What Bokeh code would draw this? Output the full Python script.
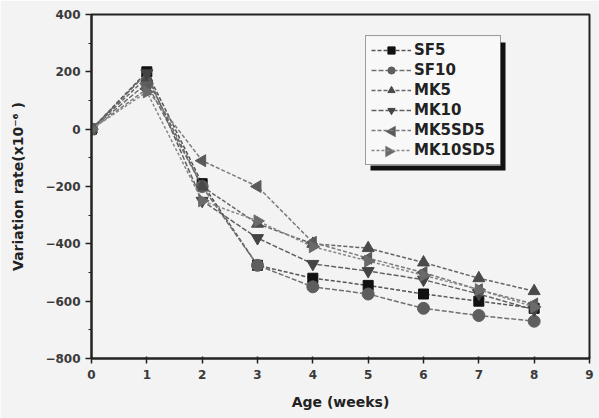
from bokeh.plotting import figure
from bokeh.models import Legend, LegendItem, BoxAnnotation, FixedTicker, PolyAnnotation
from bokeh.embed import file_html
from bokeh.resources import INLINE

weeks = [0, 1, 2, 3, 4, 5, 6, 7, 8]
sf5 = [0, 200, -190, -475, -520, -545, -575, -600, -625]
sf10 = [0, 160, -200, -475, -550, -575, -625, -650, -670]
mk5 = [0, 180, -200, -330, -400, -415, -465, -520, -565]
mk10 = [0, 195, -250, -380, -470, -495, -525, -575, -630]
mk5sd5 = [0, 140, -110, -200, -395, -450, -500, -560, -610]
mk10sd5 = [0, 130, -250, -320, -410, -460, -510, -560, -620]

labels = ["SF5", "SF10", "MK5", "MK10", "MK5SD5", "MK10SD5"]
x_ticks = [0, 1, 2, 3, 4, 5, 6, 7, 8, 9]
y_ticks = [-800, -600, -400, -200, 0, 200, 400]

BG = "#f3f3f3"
FONT = "DejaVu Sans"

p = figure(width=599, height=418, output_backend="svg", toolbar_location=None,
           x_range=(0, 9), y_range=(-800, 400),
           min_border_left=91, min_border_right=10, min_border_top=14, min_border_bottom=60,
           background_fill_color=BG, border_fill_color=BG)
p.xgrid.visible = False
p.ygrid.visible = False
p.outline_line_color = "#222222"
p.outline_line_width = 2

p.xaxis.ticker = FixedTicker(ticks=x_ticks)
p.yaxis.ticker = FixedTicker(ticks=y_ticks, minor_ticks=list(range(-800, 401, 100)))
for ax in (p.xaxis[0], p.yaxis[0]):
    ax.axis_line_color = "#222222"
    ax.axis_line_width = 2
    ax.major_tick_line_color = "#222222"
    ax.major_tick_line_width = 1.5
    ax.minor_tick_line_color = "#222222"
    ax.major_label_text_font = FONT
    ax.major_label_text_font_size = "12px"
    ax.major_label_text_font_style = "bold"
    ax.major_label_text_color = "#3a3a3a"
    ax.axis_label_text_font = FONT
    ax.axis_label_text_font_size = "14px"
    ax.axis_label_text_font_style = "bold"
    ax.axis_label_text_color = "#222222"
p.xaxis.minor_tick_line_color = None
p.yaxis.minor_tick_in = 0
p.yaxis.minor_tick_out = 3
p.xaxis.major_tick_in = 2
p.xaxis.major_tick_out = 5
p.yaxis.major_tick_in = 0
p.yaxis.major_tick_out = 6
p.xaxis.major_label_standoff = 6
p.xaxis.axis_label = "Age (weeks)"
p.yaxis.axis_label = "Variation rate(x10\u207b\u2076 )"
p.xaxis.axis_label_standoff = 12
p.yaxis.axis_label_standoff = 16

series = [sf5, sf10, mk5, mk10, mk5sd5, mk10sd5]
markers = ["square", "circle", "triangle", "inverted_triangle", "triangle", "triangle"]
angles = [0, 0, 0, 0, 1.5708, -1.5708]
mcolors = ["#111111", "#5e5e5e", "#4a4a4a", "#444444", "#5a5a5a", "#6a6a6a"]
lcolors = ["#555555", "#707070", "#666666", "#606060", "#7a7a7a", "#888888"]
dashes = ["4 2", "5 2", "4 2", "5 2", "4 2", "3 2"]
sizes = [10, 12, 12, 12, 12, 12]

# legend drop shadow and background (screen units, relative to frame, y up)
p.add_layout(BoxAnnotation(left=279, right=414, top=316, bottom=188,
                           left_units="screen", right_units="screen",
                           top_units="screen", bottom_units="screen",
                           fill_color="#111111", fill_alpha=1, line_color=None, level="underlay"))
p.add_layout(BoxAnnotation(left=274, right=409, top=321, bottom=193,
                           left_units="screen", right_units="screen",
                           top_units="screen", bottom_units="screen",
                           fill_color="#f8f8f8", fill_alpha=1, line_color=None, level="underlay"))
# sideways triangle symbols for the legend (Bokeh legend ignores marker angle)
cx = 299
for direction, cy, col in [(-1, 358 - 131, "#5a5a5a"), (1, 358 - 151, "#6a6a6a")]:
    xs = [cx + 5 * direction, cx - 5 * direction, cx - 5 * direction]
    ys = [cy, cy + 5.5, cy - 5.5]
    p.add_layout(PolyAnnotation(xs=xs, ys=ys, xs_units="screen", ys_units="screen",
                                fill_color=col, fill_alpha=1, line_color=col, line_width=1,
                                level="underlay"))

items = []
for i, (s, mk, ang, mc, lc, ds, sz, lab) in enumerate(zip(series, markers, angles, mcolors, lcolors, dashes, sizes, labels)):
    r1 = p.line(weeks, s, line_color=lc, line_width=1.5, line_dash=ds)
    r2 = p.scatter(weeks, s, marker=mk, angle=ang, size=sz, fill_color=mc, line_color=mc)
    if i < 4:
        items.append(LegendItem(label=lab, renderers=[r1, r2]))
    else:
        items.append(LegendItem(label=lab, renderers=[r1]))

legend = Legend(items=items, location=(274, 193), orientation="vertical",
                background_fill_alpha=0,
                border_line_color="#444444", border_line_width=1,
                label_text_font=FONT, label_text_font_size="15px",
                label_text_font_style="bold", label_text_color="#222222",
                glyph_width=40, glyph_height=18, label_height=18,
                spacing=2, padding=5, margin=0, label_standoff=3)
p.add_layout(legend, "center")

open("out.html", "w").write(file_html(p, INLINE))
